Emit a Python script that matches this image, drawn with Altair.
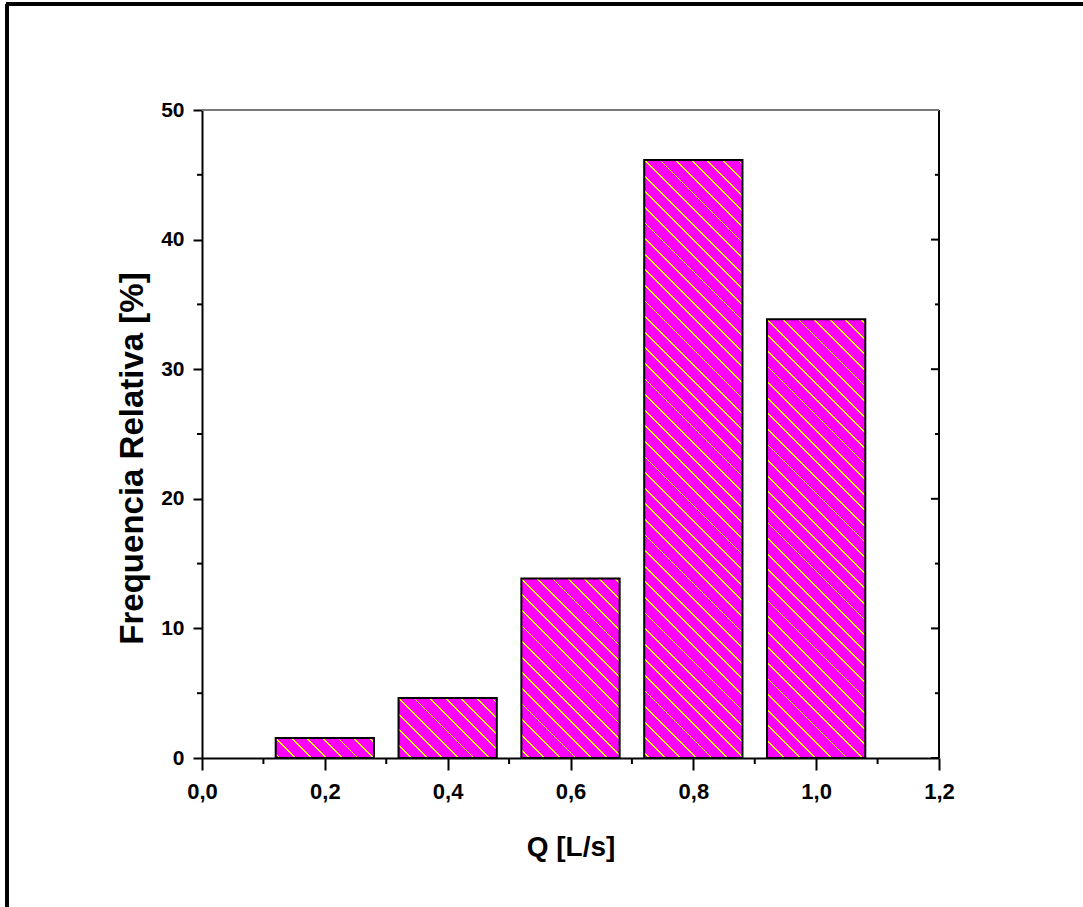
import altair as alt
import pandas as pd
import math

# ---- data ----
q_bin_start = [0.12, 0.32, 0.52, 0.72, 0.92]
q_bin_end = [0.28, 0.48, 0.68, 0.88, 1.08]
freq_rel = [1.54, 4.62, 13.85, 46.15, 33.85]

x_major = [0.0, 0.2, 0.4, 0.6, 0.8, 1.0, 1.2]
x_minor = [0.1, 0.3, 0.5, 0.7, 0.9, 1.1]
y_major = [0, 10, 20, 30, 40, 50]
y_minor = [5, 15, 25, 35, 45]

# ---- layout ----
W, H = 737, 648
XMAX, YMAX = 1.2, 50
PAD = {"left": 202, "top": 110, "right": 1083 - 202 - W, "bottom": 907 - 110 - H}
FONT = "Liberation Sans"
MAGENTA = "#FF00FF"
YELLOW = "#FFFF00"

bars = pd.DataFrame({"i": range(5), "x0": q_bin_start, "x1": q_bin_end, "f": freq_rel})

xscale = alt.Scale(domain=[0, XMAX], nice=False, zero=False)
yscale = alt.Scale(domain=[0, YMAX], nice=False)

xaxis = alt.Axis(
    values=x_major, title="Q [L/s]", labelExpr="replace(format(datum.value, '.1f'), '.', ',')",
    grid=False, domainColor="black", domainWidth=2, tickColor="black", tickWidth=2, tickSize=12,
    labelFont=FONT, labelFontSize=22, labelFontWeight="bold", labelColor="black",
    labelBaseline="alphabetic", labelPadding=28, labelFlush=False,
    titleFont=FONT, titleFontSize=28, titleFontWeight="bold", titleColor="black",
    titleBaseline="alphabetic", titleY=97, titleX=W / 2, titleAnchor="middle",
)
yaxis = alt.Axis(
    values=y_major, title="Frequencia Relativa [%]", format="d",
    grid=False, domainColor="black", domainWidth=2, tickColor="black", tickWidth=2, tickSize=9,
    labelFont=FONT, labelFontSize=21, labelFontWeight="bold", labelColor="black",
    labelPadding=9, labelFlush=False,
    titleFont=FONT, titleFontSize=33, titleFontWeight="bold", titleColor="black",
    titleAngle=270, titleBaseline="alphabetic", titleX=-60, titleY=348, titleAlign="center",
)


def hatch_fill(x0, x1, f, period=15.6, half=0.9):
    w = (x1 - x0) / XMAX * W
    h = f / YMAX * H
    k = (w + h) / (w * w + h * h)
    stops = [{"offset": 0, "color": MAGENTA}]
    n0 = math.floor(-h / period) - 1
    n1 = math.ceil(w / period) + 1
    for n in range(n0, n1 + 1):
        s = n * period
        ta = min(max((s - half + h) / (w + h), 0), 1)
        tb = min(max((s + half + h) / (w + h), 0), 1)
        if tb <= 0 or ta >= 1:
            continue
        stops += [
            {"offset": ta, "color": MAGENTA},
            {"offset": ta, "color": YELLOW},
            {"offset": tb, "color": YELLOW},
            {"offset": tb, "color": MAGENTA},
        ]
    stops.append({"offset": 1, "color": MAGENTA})
    return {"gradient": "linear", "x1": 0, "y1": 1, "x2": k * w, "y2": 1 - k * h, "stops": stops}


layers = []
for i in range(len(freq_rel)):
    layers.append(
        alt.Chart(bars)
        .transform_filter(alt.datum.i == i)
        .mark_rect(fill=hatch_fill(q_bin_start[i], q_bin_end[i], freq_rel[i]), stroke="black", strokeWidth=2)
        .encode(
            x=alt.X("x0:Q", scale=xscale, axis=xaxis),
            x2="x1:Q",
            y=alt.Y("f:Q", scale=yscale, axis=yaxis),
            y2=alt.datum(0),
        )
    )

xminor_df = pd.DataFrame({"v": x_minor})
ymajor_df = pd.DataFrame({"v": y_major})
yminor_df = pd.DataFrame({"v": y_minor})

rule = dict(color="black", strokeWidth=2)

x_minor_ticks = alt.Chart(xminor_df).mark_rule(**rule).encode(
    x=alt.X("v:Q", scale=xscale, axis=xaxis), y=alt.value(H), y2=alt.value(H + 6)
)
y_minor_left = alt.Chart(yminor_df).mark_rule(**rule).encode(
    y=alt.Y("v:Q", scale=yscale, axis=yaxis), x=alt.value(-5), x2=alt.value(0)
)
y_major_right = alt.Chart(ymajor_df).mark_rule(**rule).encode(
    y=alt.Y("v:Q", scale=yscale, axis=yaxis), x=alt.value(W - 8), x2=alt.value(W)
)
y_minor_right = alt.Chart(yminor_df).mark_rule(**rule).encode(
    y=alt.Y("v:Q", scale=yscale, axis=yaxis), x=alt.value(W - 4), x2=alt.value(W)
)
right_border = alt.Chart(ymajor_df).mark_rule(**rule).encode(
    x=alt.value(W), y=alt.value(0), y2=alt.value(H)
)
top_border = alt.Chart(ymajor_df).mark_rule(color="#777777", strokeWidth=2).encode(
    y=alt.value(0), x=alt.value(0), x2=alt.value(W)
)
# outer page frame (left and top edges)
frame_left = alt.Chart(ymajor_df).mark_rule(color="black", strokeWidth=3).encode(
    x=alt.value(7 - PAD["left"]), y=alt.value(4 - PAD["top"]), y2=alt.value(907 - PAD["top"])
)
frame_top = alt.Chart(ymajor_df).mark_rule(color="black", strokeWidth=3).encode(
    y=alt.value(4 - PAD["top"]), x=alt.value(6 - PAD["left"]), x2=alt.value(1083 - PAD["left"])
)

chart = (
    alt.layer(
        *layers, x_minor_ticks, y_minor_left, y_major_right, y_minor_right,
        right_border, top_border, frame_left, frame_top
    )
    .properties(width=W, height=H, autosize=alt.AutoSizeParams(type="none"), padding=PAD, background="white")
    .configure_view(stroke=None)
)

chart.save("out.html", embed_options={"renderer": "svg", "actions": False})
